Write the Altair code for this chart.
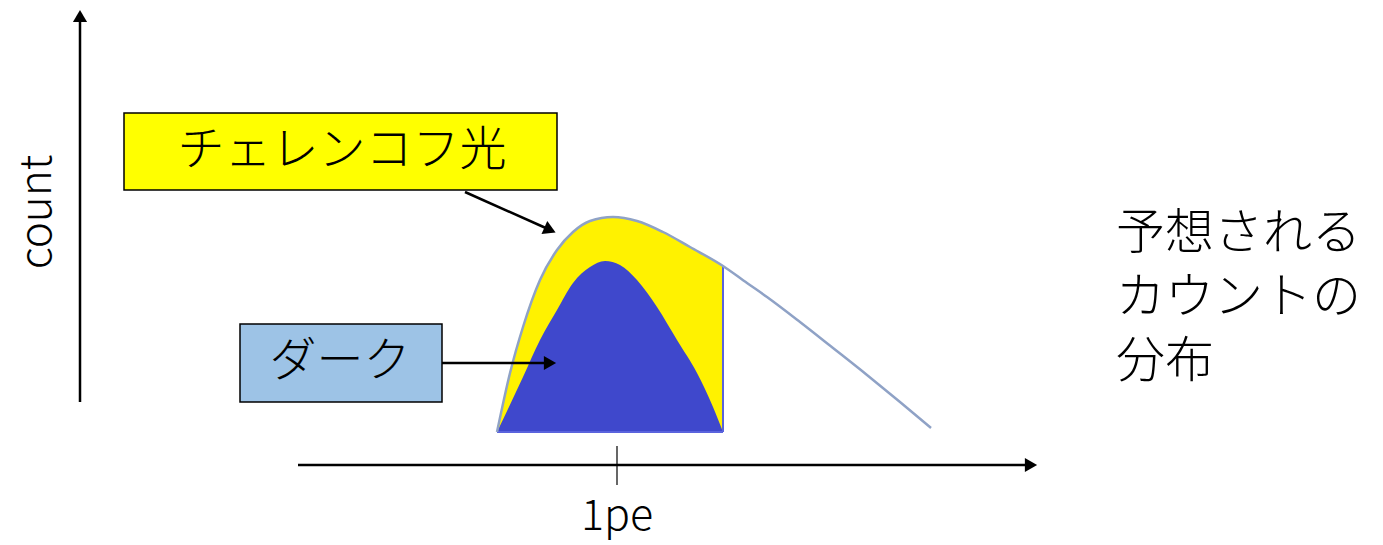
import altair as alt
import pandas as pd

# Diagram data (schematic units: x = horizontal position, y = vertical position, downward)
outer_x = [497, 510, 523, 540, 557, 573, 590, 613, 637, 663, 690, 723, 747, 767, 800, 833, 867, 900, 931]
outer_y = [432, 373, 327, 280, 250, 232, 221, 217, 221, 232, 247, 266, 283, 297, 322, 348, 375, 402, 428]
dark_x = [497, 523, 540, 557, 573, 590, 605, 620, 637, 657, 677, 697, 713, 723]
dark_y = [432, 377, 340, 310, 283, 267, 261, 265, 280, 307, 340, 373, 407, 432]
cut_x = 723
base_y = 432
pe_x = 617

labels = ["チェレンコフ光", "ダーク"]
right_lines = ["予想される", "カウントの", "分布"]
axis_x_label = "1pe"
axis_y_label = "count"

FONT = "Noto Sans CJK JP"

xs = alt.Scale(domain=[8, 1375], nice=False, zero=False)
ys = alt.Scale(domain=[8, 545], nice=False, zero=False, reverse=True)
X = lambda f: alt.X(f, type="quantitative", scale=xs, axis=None)
Y = lambda f: alt.Y(f, type="quantitative", scale=ys, axis=None)

outer = pd.DataFrame({"x": outer_x, "y": outer_y})
yellow = outer[outer.x <= cut_x].copy()
yellow["y2"] = base_y
dark = pd.DataFrame({"x": dark_x, "y": dark_y})
dark["y2"] = base_y

yellow_area = alt.Chart(yellow).mark_area(color="#FFF200", interpolate="monotone").encode(
    x=X("x"), y=Y("y"), y2="y2")
dark_area = alt.Chart(dark).mark_area(color="#3F48CC", interpolate="monotone").encode(
    x=X("x"), y=Y("y"), y2="y2")
outer_line = alt.Chart(outer).mark_line(color="#8FA2C6", strokeWidth=2.5, interpolate="monotone").encode(
    x=X("x"), y=Y("y"))

edges = pd.DataFrame({"x": [497, cut_x], "x2": [cut_x, cut_x], "y": [base_y, 266], "y2": [base_y, base_y]})
edge_rules = alt.Chart(edges).mark_rule(color="#5A63DD", strokeWidth=2).encode(
    x=X("x"), x2="x2", y=Y("y"), y2="y2")

# axes and arrows
axes = pd.DataFrame({"x": [80, 298, pe_x, 465, 442], "x2": [80, 1028, pe_x, 548, 546],
                     "y": [402, 465, 446, 192, 363], "y2": [22, 465, 485, 229, 363],
                     "w": [2.5, 2.5, 1.2, 2.5, 2.5]})
axis_rules = alt.Chart(axes).mark_rule(color="black").encode(
    x=X("x"), x2="x2", y=Y("y"), y2="y2", strokeWidth=alt.StrokeWidth("w:Q", scale=None, legend=None))

heads = pd.DataFrame({"x": [80, 1031, 550, 550], "y": [16, 465, 230, 363], "a": [0, 90, 114, 90]})
arrow_heads = alt.Chart(heads).mark_point(shape="triangle-up", filled=True, color="black", size=200, opacity=1).encode(
    x=X("x"), y=Y("y"), angle=alt.Angle("a:Q", scale=None))

boxes = pd.DataFrame({"x": [124, 240], "x2": [557, 442], "y": [113, 324], "y2": [190, 402],
                      "fill": ["#FFFF00", "#9DC3E6"]})
box_rects = alt.Chart(boxes).mark_rect(stroke="black", strokeWidth=1.5).encode(
    x=X("x"), x2="x2", y=Y("y"), y2="y2", fill=alt.Fill("fill:N", scale=None, legend=None))

box_text = pd.DataFrame({"x": [342, 340], "y": [151, 362], "t": labels})
box_labels = alt.Chart(box_text).mark_text(font=FONT, fontSize=47, fontWeight=300,
                                           baseline="middle", align="center").encode(
    x=X("x"), y=Y("y"), text="t:N")

rt = pd.DataFrame({"x": [1116], "y": [234], "t": ["\n".join(right_lines)]})
right_text = alt.Chart(rt).mark_text(font=FONT, fontSize=49, fontWeight=300, lineBreak="\n", lineHeight=64,
                                     baseline="middle", align="left").encode(
    x=X("x"), y=Y("y"), text="t:N")

xl = pd.DataFrame({"x": [pe_x], "y": [517], "t": [axis_x_label]})
x_label = alt.Chart(xl).mark_text(font=FONT, fontSize=43, fontWeight=300,
                                  baseline="middle", align="center").encode(
    x=X("x"), y=Y("y"), text="t:N")

yl = pd.DataFrame({"x": [38], "y": [212], "t": [axis_y_label]})
y_label = alt.Chart(yl).mark_text(font=FONT, fontSize=44, fontWeight=300,
                                  baseline="middle", align="center", angle=270).encode(
    x=X("x"), y=Y("y"), text="t:N")

chart = alt.layer(
    yellow_area, dark_area, edge_rules, outer_line, axis_rules, arrow_heads,
    box_rects, box_labels, right_text, x_label, y_label
).properties(width=1367, height=537, padding=0, background="white").configure_view(strokeWidth=0)

chart.save("out.html", embed_options={"renderer": "svg", "actions": False})
